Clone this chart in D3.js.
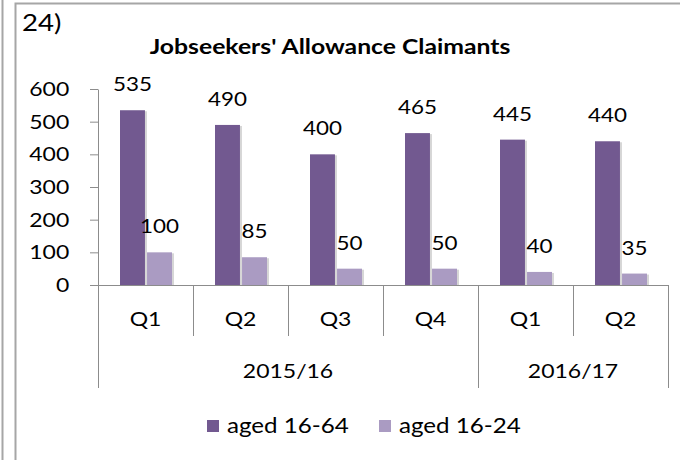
<!DOCTYPE html>
<html>
<head>
<meta charset="utf-8">
<script src="https://cdn.jsdelivr.net/npm/d3@7"></script>
<style>
  body { margin: 0; background: #fff; }
  svg text { font-family: Lato, "Open Sans", sans-serif; fill: #000; }
</style>
</head>
<body>
<svg id="chart" width="680" height="460"></svg>
<script>
const quarters = ["Q1", "Q2", "Q3", "Q4", "Q1", "Q2"];
const years = [{label: "2015/16", from: 0, to: 4}, {label: "2016/17", from: 4, to: 6}];
const seriesNames = ["aged 16-64", "aged 16-24"];
const aged1664 = [535, 490, 400, 465, 445, 440];
const aged1624 = [100, 85, 50, 50, 40, 35];
const yTicks = [0, 100, 200, 300, 400, 500, 600];

const colors = ["#725990", "#aa9bc2"];
const width = 680, height = 460;
const plotLeft = 98, plotRight = 668, plotTop = 89, plotBottom = 285;
const SX = 1.15; // the original text is a little stretched sideways

const svg = d3.select("#chart");

// text placed at (x,y) and widened a bit
function label(parent, x, y, txt, size, anchor, weight) {
    const g = parent.append("g").attr("transform", `translate(${x},${y}) scale(${SX},1)`);
    g.append("text")
        .attr("text-anchor", anchor || "start")
        .attr("font-size", size + "px")
        .attr("font-weight", weight || "normal")
        .text(txt);
    return g;
}

// page frame
svg.append("line").attr("x1", 2.5).attr("x2", 2.5).attr("y1", 0).attr("y2", height)
    .attr("stroke", "#a6a6a6").attr("stroke-width", 2);
svg.append("path").attr("d", `M15.5,${height} V3.5 H${width}`)
    .attr("fill", "none").attr("stroke", "#a6a6a6").attr("stroke-width", 2);

label(svg, 22, 31, "24)", 24);
label(svg, 330, 54, "Jobseekers' Allowance Claimants", 21.5, "middle", "bold");

const idx = d3.range(quarters.length);
const x = d3.scaleBand().domain(idx).range([plotLeft, plotRight]);
const x1 = d3.scaleBand().domain(seriesNames).range([22, 74]).paddingInner(0.077);
const y = d3.scaleLinear().domain([0, 600]).range([plotBottom, plotTop]);

// y axis
const yAxis = svg.append("g")
    .attr("transform", `translate(${plotLeft},0)`)
    .call(d3.axisLeft(y).tickValues(yTicks).tickSize(8).tickSizeOuter(0).tickPadding(17));
yAxis.select(".domain").attr("stroke", "#8c8c8c");
yAxis.selectAll(".tick line").attr("stroke", "#8c8c8c");
yAxis.selectAll(".tick text")
    .attr("font-size", "20px")
    .attr("font-family", "Lato, sans-serif")
    .attr("fill", "#000")
    .attr("transform", `translate(-25,0) scale(${SX},1) translate(${25 / SX},0)`);

const data = idx.map(i => ({i, values: [aged1664[i], aged1624[i]]}));

const groups = svg.selectAll(".cat")
    .data(data)
    .enter()
    .append("g")
    .attr("class", "cat")
    .attr("transform", d => "translate(" + x(d.i) + ",0)");

const bars = groups.selectAll(".bar")
    .data(d => d.values.map((v, k) => ({name: seriesNames[k], v, k})))
    .enter();

// soft shadow like the spreadsheet bars
bars.append("rect")
    .attr("x", d => x1(d.name) + 2)
    .attr("y", d => y(d.v) + 1)
    .attr("width", x1.bandwidth())
    .attr("height", d => plotBottom - y(d.v) - 1)
    .attr("fill", "#d6d6d6");

bars.append("rect")
    .attr("x", d => x1(d.name))
    .attr("y", d => y(d.v))
    .attr("width", x1.bandwidth())
    .attr("height", d => plotBottom - y(d.v))
    .attr("fill", d => colors[d.k]);

groups.each(function(d) {
    const g = d3.select(this);
    d.values.forEach((v, k) => {
        label(g, x1(seriesNames[k]) + x1.bandwidth() / 2, y(v) - 19, v, 19.5, "middle");
    });
});

// x axis (two level)
const axisColor = "#8c8c8c";
svg.append("line").attr("x1", plotLeft - 8).attr("x2", plotRight).attr("y1", plotBottom + 0.5).attr("y2", plotBottom + 0.5)
    .attr("stroke", axisColor);

const bounds = d3.range(quarters.length + 1);
svg.selectAll(".qdiv")
    .data(bounds)
    .enter()
    .append("line")
    .attr("class", "qdiv")
    .attr("x1", d => Math.round(plotLeft + d * x.step()) + 0.5)
    .attr("x2", d => Math.round(plotLeft + d * x.step()) + 0.5)
    .attr("y1", plotBottom)
    .attr("y2", d => (years.some(yr => yr.from === d || yr.to === d)) ? 388 : 336)
    .attr("stroke", axisColor);

quarters.forEach((q, i) => label(svg, x(i) + x.bandwidth() / 2, 326, q, 20, "middle"));
years.forEach(yr => label(svg, plotLeft + (yr.from + yr.to) / 2 * x.step(), 378, yr.label, 20, "middle"));

// legend
const legendX = [207, 379];
seriesNames.forEach((name, i) => {
    svg.append("rect").attr("x", legendX[i]).attr("y", 420)
        .attr("width", 12).attr("height", 12).attr("fill", colors[i]);
    label(svg, legendX[i] + 20, 433, name, 21);
});
</script>
</body>
</html>
